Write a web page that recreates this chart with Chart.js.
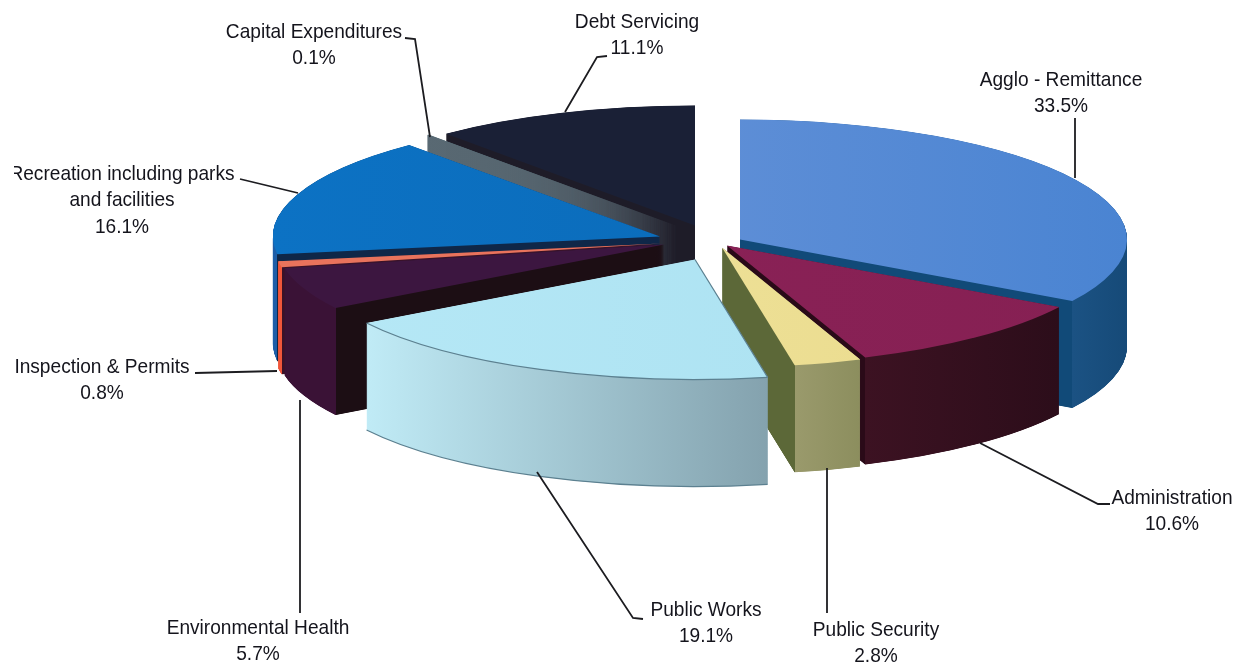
<!DOCTYPE html>
<html>
<head>
<meta charset="utf-8">
<style>
	html, body { margin: 0; padding: 0; background: #fff; }
	canvas { display: block; filter: blur(0.45px); }
</style>
<script src="https://cdn.jsdelivr.net/npm/chart.js@4/dist/chart.umd.min.js"></script>
</head>
<body>
<canvas id="budget_chart" width="1240" height="669"></canvas>
<script>
//chart data, clockwise from 12 o'clock
var categories = [
	'Agglo - Remittance',
	'Administration',
	'Public Security',
	'Public Works',
	'Environmental Health',
	'Inspection & Permits',
	'Recreation including parks and facilities',
	'Capital Expenditures',
	'Debt Servicing'
];
var values = [33.5, 10.6, 2.8, 19.1, 5.7, 0.8, 16.1, 0.1, 11.1];

//slice colors: top face (left, right), outer wall (left, right), cut wall
var topColors = [
	['#6f97da', '#4a84d2'], ['#8b2258', '#862053'], ['#f1e6a0', '#e9d98a'],
	['#b6e8f6', '#a9e0f0'], ['#3c1640', '#3c1640'], ['#e8735c', '#e8735c'],
	['#0c72c4', '#0a68b4'], ['#566a74', '#566a74'], ['#1a2036', '#1a2036']
];
var wallColors = [
	['#1b5283', '#164a78'], ['#3c1222', '#2c0d1a'], ['#9a9a6c', '#8c8e5e'],
	['#c0ebf6', '#84a2ae'], ['#3a1236', '#3a1236'], ['#f0563a', '#f0563a'],
	['#1d5ea8', '#1d5ea8'], ['#566a74', '#566a74'], ['#1e1c28', '#1e1c28']
];
var cutColors = ['#114a78', '#2a0a18', '#5c6838', '#84a2ae', '#1c0e14', '#3a1228', '#0f2748', '#586872', '#1e1c28'];

//how far each slice is pulled out of the pie
var explodeX = [37, 24, 19, -8, -39, -42, -43, -25, -8];
var explodeY = [-4, 2, 4, 16, 1, 0, -7, -17, -18];

//far slices first so near ones paint over them
var drawOrder = [8, 7, 6, 5, 4, 0, 1, 2, 3];

var pieWidth = 387;
var pieHeight = 120;
var pieDepth = 107;

//label text, one entry per slice, then where it sits
var labelLines = [
	['Agglo - Remittance'], ['Administration'], ['Public Security'], ['Public Works'],
	['Environmental Health'], ['Inspection & Permits'],
	['Recreation including parks', 'and facilities'], ['Capital Expenditures'], ['Debt Servicing']
];
var labelX = [1061, 1172, 876, 706, 258, 102, 122, 314, 637];
var labelY = [80, 498, 630, 610, 628, 367, 174, 32, 22];
var leaders = [
	[[1075, 118], [1075, 178]],
	[[980, 443], [1098, 504], [1110, 504]],
	[[827, 468], [827, 613]],
	[[537, 472], [633, 618], [643, 619]],
	[[300, 400], [300, 613]],
	[[195, 373], [277, 371]],
	[[240, 179], [298, 193]],
	[[405, 38], [415, 39], [430, 137]],
	[[607, 56], [597, 57], [565, 112]]
];

function drawSlice(ctx, el, i, lift, fill) {
	var saved = el.options;
	el.options = Object.assign({}, saved, { backgroundColor: fill, borderWidth: 0 });

	ctx.save();
	ctx.translate(el.x + explodeX[i], el.y + explodeY[i] + lift);
	ctx.scale(pieWidth / el.outerRadius, pieHeight / el.outerRadius);
	ctx.translate(-el.x, -el.y);
	el.draw(ctx);
	ctx.restore();

	el.options = saved;
}

function topFill(ctx, el, i) {
	var r = el.outerRadius;
	var g = ctx.createLinearGradient(el.x - r, 0, el.x + r, 0);
	g.addColorStop(0, topColors[i][0]);
	g.addColorStop(1, topColors[i][1]);
	return g;
}

//outer wall and cut wall meet on a hard vertical line at the slice corner
function wallFill(ctx, el, i) {
	var r = el.outerRadius;
	var cs = Math.cos(el.startAngle);
	var ce = Math.cos(el.endAngle);
	var lo = Math.min(cs, ce);
	var hi = Math.max(cs, ce);
	if(el.startAngle < 0 && el.endAngle > 0) hi = 1;
	if(el.startAngle < Math.PI && el.endAngle > Math.PI) lo = -1;

	var t = function(v) { return (v + 1) / 2; };
	var g = ctx.createLinearGradient(el.x - r, 0, el.x + r, 0);

	if(Math.cos((el.startAngle + el.endAngle) / 2) > 0) {
		g.addColorStop(0, cutColors[i]);
		g.addColorStop(t(ce), cutColors[i]);
		g.addColorStop(t(ce), wallColors[i][0]);
		g.addColorStop(t(hi), wallColors[i][1]);
		g.addColorStop(1, wallColors[i][1]);
	} else {
		g.addColorStop(0, wallColors[i][0]);
		g.addColorStop(t(lo), wallColors[i][0]);
		g.addColorStop(t(cs), wallColors[i][1]);
		g.addColorStop(t(cs), cutColors[i]);
		g.addColorStop(1, cutColors[i]);
	}
	return g;
}

var pie3d = {
	id: 'pie3d',
	beforeDatasetsDraw: function(chart) {
		var ctx = chart.ctx;
		var arcs = chart.getDatasetMeta(0).data;

		drawOrder.forEach(function(i) {
			var el = arcs[i];
			var wall = wallFill(ctx, el, i);
			//small steps, the thin slices leave stripes otherwise
			for(var d = pieDepth; d > 0; d -= 0.25) {
				drawSlice(ctx, el, i, d, wall);
			}
			drawSlice(ctx, el, i, 0, topFill(ctx, el, i));

			//public works has a thin outline on its rim and right edge
			if(i === 3) {
				var tx = el.x + explodeX[i];
				var ty = el.y + explodeY[i];
				ctx.save();
				ctx.strokeStyle = '#5c8090';
				ctx.lineWidth = 1.2;
				ctx.beginPath();
				ctx.ellipse(tx, ty, pieWidth, pieHeight, 0, el.startAngle, el.endAngle);
				ctx.stroke();
				ctx.beginPath();
				ctx.ellipse(tx, ty + pieDepth, pieWidth, pieHeight, 0, el.startAngle, el.endAngle);
				ctx.stroke();
				ctx.beginPath();
				ctx.moveTo(tx, ty);
				ctx.lineTo(tx + pieWidth * Math.cos(el.startAngle), ty + pieHeight * Math.sin(el.startAngle));
				ctx.stroke();
				ctx.restore();
			}
		});
		return false;
	},
	afterDraw: function(chart) {
		var ctx = chart.ctx;

		ctx.save();
		ctx.strokeStyle = '#1c1c20';
		ctx.lineWidth = 1.8;
		leaders.forEach(function(pts) {
			ctx.beginPath();
			pts.forEach(function(p, n) {
				if(n === 0) ctx.moveTo(p[0], p[1]);
				else ctx.lineTo(p[0], p[1]);
			});
			ctx.stroke();
		});
		ctx.restore();

		//the left edge of the page cuts the R of Recreation
		ctx.save();
		ctx.beginPath();
		ctx.rect(14, 0, 1226, 669);
		ctx.clip();
		ctx.fillStyle = '#14141c';
		ctx.font = '21px "Liberation Sans"';
		ctx.textAlign = 'center';
		ctx.textBaseline = 'middle';
		categories.forEach(function(name, i) {
			var lines = labelLines[i].concat(values[i].toFixed(1) + '%');
			lines.forEach(function(line, n) {
				ctx.save();
				ctx.translate(labelX[i], labelY[i] + n * 26.5);
				ctx.scale(0.91, 1);
				ctx.fillText(line, 0, 0);
				ctx.restore();
			});
		});
		ctx.restore();
	}
};

window.onload = function() {
	var ctx = document.getElementById('budget_chart').getContext('2d');
	new Chart(ctx, {
		type: 'pie',
		data: {
			labels: categories,
			datasets: [{
				data: values,
				borderWidth: 0
			}]
		},
		options: {
			responsive: false,
			animation: false,
			layout: { padding: { left: 166, bottom: 182 } },
			plugins: {
				legend: { display: false },
				tooltip: { enabled: false }
			}
		},
		plugins: [pie3d]
	});
};
</script>
</body>
</html>
